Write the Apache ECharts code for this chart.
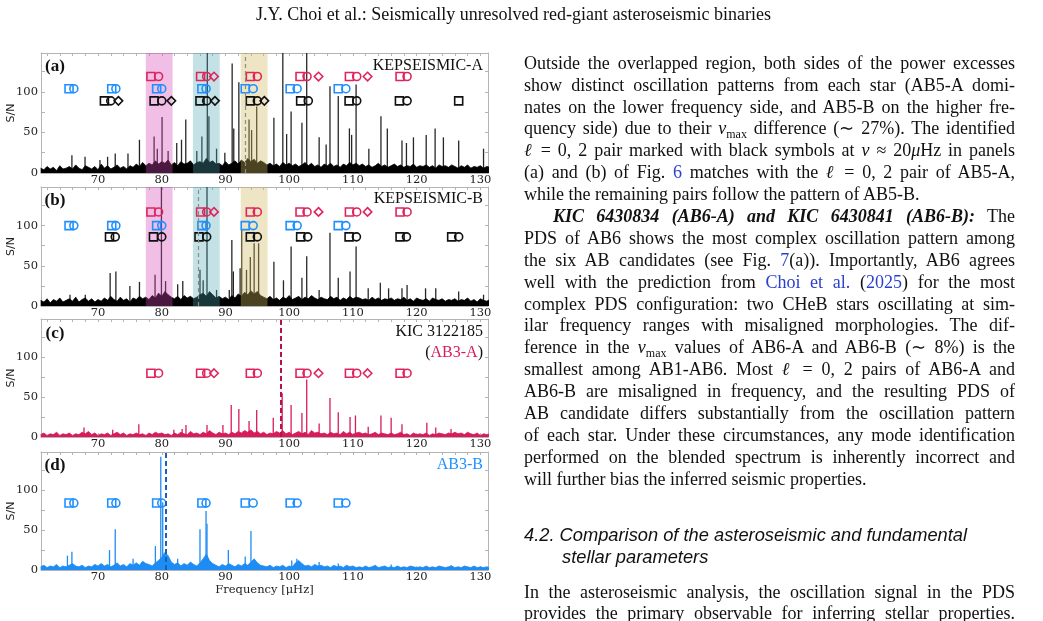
<!DOCTYPE html>
<html>
<head>
<meta charset="utf-8">
<title>Seismically unresolved red-giant asteroseismic binaries</title>
<script src="https://cdn.jsdelivr.net/npm/echarts@6.0.0/dist/echarts.min.js"></script>
<style>
  html, body { margin: 0; padding: 0; background: #fff; }
  #page { position: relative; width: 1043px; height: 621px; overflow: hidden; }
  #chart { position: absolute; left: 0; top: 0; width: 1043px; height: 621px; }
  .txt { position: absolute; font-family: 'Liberation Serif', 'Times New Roman', serif; color: #111; white-space: nowrap; }
  .ln { left: 524px; width: 491px; font-size: 18px; line-height: 22px; text-align: justify; text-align-last: justify; }
  .ln.last { text-align-last: left; }
  .ln.indent { left: 553px; width: 462px; }
  .hd { left: 524px; font-family: 'Liberation Sans', Arial, sans-serif; font-style: italic; font-size: 18.3px; line-height: 22px; }
  .lk { color: #2a3fd0; }
  sub { font-size: 12px; line-height: 0; vertical-align: -4px; }
</style>
</head>
<body>
<div id="page">
  <div id="chart"></div>
</div>
<script>
// ---- data ----
const X_MIN = 61.05, X_MAX = 131.2, Y_MAX = 148;
const freqLabels = [70, 80, 90, 100, 110, 120, 130];
const snLabels = [0, 50, 100];

// noise floor, one value every 0.5 uHz from 61 uHz
const NOISE_START = 61, NOISE_STEP = 0.5;
const noiseA = [
  6,4,8,5,7,3,9,5,6,8, 5,10,6,4,9,7,5,8,4,11, 6,9,5,7,10,6,8,5,9,7,
  11,8,13,9,12,10,15,11,14,12, 16,10,13,9,14,11,12,15,10,13, 14,12,18,13,15,11,12,9,14,10,
  12,15,11,16,13,18,14,17,12,15, 13,10,12,9,11,8,13,10,12,9, 11,8,10,13,9,12,8,10,7,11,
  9,12,8,10,7,11,9,13,10,12, 9,11,8,10,7,9,12,8,10,7, 9,11,8,10,7,9,8,11,7,9,
  8,10,7,9,6,10,8,9,7,10, 8,6,9,7,10,6,8,7,9,6, 8,7
];
const noiseB = [
  7,5,9,4,8,6,10,5,7,9, 6,11,5,8,10,6,9,5,8,6, 10,7,12,8,6,11,7,9,5,10,
  8,12,9,11,8,13,10,16,12,18, 14,11,9,12,8,13,10,12,9,11, 14,16,12,18,14,10,12,9,11,8,
  13,10,15,12,17,14,19,15,18,13, 11,9,12,8,10,7,11,9,13,8, 10,12,8,11,9,13,10,8,11,9,
  8,12,9,11,7,10,8,12,9,11, 10,8,9,7,11,8,10,7,9,8, 10,7,9,8,11,7,9,6,10,8,
  7,9,6,10,8,7,9,6,8,7, 9,6,8,7,10,6,8,5,9,7, 6,8
];
const noiseAB3A = [
  3,5,2,4,3,6,2,4,3,5, 2,4,3,6,4,7,3,5,2,4, 3,5,2,4,6,3,5,2,4,3,
  5,3,4,2,5,3,6,4,5,3, 4,2,5,3,6,4,3,7,4,5, 3,6,4,8,5,3,6,4,5,3,
  6,4,7,5,8,6,9,5,7,4, 6,3,5,4,7,5,8,4,6,3, 5,7,4,6,3,8,5,6,4,5,
  3,6,4,5,3,7,4,6,3,5, 6,4,5,3,4,6,3,5,4,3, 5,3,4,6,3,4,2,5,3,4,
  3,5,2,4,3,5,4,3,5,4, 6,4,5,3,6,4,3,5,2,4, 3,4
];
const noiseAB3B = [
  4,6,3,5,4,7,3,5,4,6, 8,5,4,6,3,5,4,7,5,8, 5,7,4,6,9,5,7,4,8,6,
  9,6,11,8,7,5,9,12,16,22, 18,10,7,9,5,8,6,10,7,5, 9,14,20,12,8,6,4,7,5,8,
  6,4,7,5,8,6,10,14,9,6, 5,4,6,3,5,4,6,3,5,4, 9,12,8,5,6,4,7,5,6,4,
  5,3,6,4,5,3,6,4,5,3, 4,3,5,3,4,6,3,4,5,3, 4,3,5,3,4,3,5,4,3,4,
  3,5,3,4,3,5,4,3,4,5, 3,4,3,5,4,3,5,3,4,3, 4,3
];

// individual peaks [frequency, S/N]
const peaksA = [
  [65.9,22],[67.96,20],[70.3,16],[71.5,20],[72.7,24],[74.7,24],[76.5,41],[78.8,45],[79.3,30],
  [80.05,69],[81.0,27],[82.35,37],[83.1,41],[83.77,66],[85.5,27],[86.3,45],[87.15,200],[87.4,70],
  [88.6,30],[89.9,25],[91.05,135],[91.3,55],[92.1,112],[93.7,66],[94.1,53],[94.9,82],[97.6,68],
  [99.0,200],[99.6,48],[100.3,76],[102.0,62],[102.75,200],[104.7,44],[105.8,35],[106.4,107],
  [107.7,95],[109.45,55],[109.8,47],[110.5,109],[112.5,30],[114.4,70],[115.4,55],[117.7,40],
  [118.4,37],[119.5,44],[121.5,47],[122.9,55],[124.2,44],[126.6,40],[130.5,30]
];
const peaksB = [
  [65.6,14],[68.0,14],[71.9,41],[72.8,43],[75.0,25],[76.5,30],[78.95,39],[79.95,200],[80.6,31],
  [82.5,27],[83.3,31],[86.0,45],[86.5,32],[87.1,200],[88.6,20],[90.6,20],[91.0,82],[91.24,43],
  [92.3,47],[92.55,95],[93.3,45],[93.9,61],[94.5,78],[95.2,78],[97.6,55],[99.1,32],[100.3,74],
  [102.0,35],[102.75,62],[104.7,20],[106.4,91],[107.7,35],[109.55,43],[110.5,74],[112.4,22],
  [114.3,29],[115.6,22],[117.7,22],[118.5,26],[121.4,22],[123.0,22],[126.6,18],[130.5,14]
];
const peaksAB3A = [
  [67.8,12],[72.3,9],[76.4,16],[81.9,9],[83.2,10],[83.8,15],[87.1,15],[89.6,15],[90.9,40],
  [92.1,35],[93.7,20],[94.9,34],[97.5,24],[98.9,55],[100.3,40],[102.0,30],[102.75,72],[104.7,17],
  [106.4,49],[107.7,31],[109.55,25],[110.4,27],[112.4,13],[114.4,27],[116.0,24],[117.7,16],
  [121.6,18],[123.0,12],[125.4,10]
];
const peaksAB3B = [
  [65.2,18],[65.9,23],[71.8,25],[72.7,51],[75.5,14],[79.0,30],[79.85,142],[80.15,85],[82.5,14],
  [86.0,51],[86.95,74],[87.1,58],[90.45,25],[93.1,17],[94.0,49],[100.4,12],[101.2,14],
  [104.7,10],[107.7,8],[116.0,7],[125.4,6]
];

// overlap regions and nu_max
const bandsAB = [[77.5, 81.7], [84.9, 89.1], [92.4, 96.6]];
const numaxA = 93.1, numaxB = 85.65, numaxAB3A = 98.7, numaxAB3B = 80.6;

// mode identifications (frequency of each symbol)
const redSquares = [78.3, 86.1, 93.9, 101.7, 109.45, 117.4];
const redCircles = [79.5, 87.05, 95.0, 102.8, 110.6, 118.5];
const redDiamonds = [88.2, 104.6, 112.3];
const blueSquares = [65.45, 72.15, 79.2, 86.3, 93.1, 100.15, 107.7];
const blueCircles = [66.2, 72.8, 80.0, 86.95, 94.35, 101.25, 108.9];
const blackSquaresA = [71.0, 78.8, 86.0, 93.9, 101.8, 109.4, 117.3, 126.6];
const blackCirclesA = [72.0, 80.0, 87.05, 95.0, 103.0, 110.6, 118.5];
const blackDiamondsA = [73.2, 81.5, 88.35, 96.1];
const blackSquaresB = [71.8, 78.7, 85.85, 93.9, 101.8, 109.4, 117.4, 125.5];
const blackCirclesB = [72.7, 80.0, 87.05, 95.0, 102.9, 110.55, 118.4, 126.6];
// S/N level of each symbol row
const rowsA = { red: 119, blue: 104, black: 89 };
const rowsB = { red: 117, blue: 100, black: 86 };
const rowAB3A = 80, rowAB3B = 84;

// ---- styling ----
const RED = '#e0245e', BLUE = '#1e90ff', BLACK = '#111';
const FRAME = '#b4b4b4';
const TICK_FONT = 'DejaVu Serif';
const bandColors = ['rgba(214,69,183,0.35)', 'rgba(76,167,176,0.33)', 'rgba(205,183,89,0.36)'];

function row(xs, y, shape, color) {
  return { xs: xs, y: y, shape: shape, color: color };
}

const panels = [
  { top: 53, height: 120, color: '#000', peakColor: 'rgba(0,0,0,0.85)', noise: noiseA, peaks: peaksA, bands: bandsAB,
    numax: numaxA, numaxLine: { color: '#8c8c8c', width: 1.2, type: [4, 3] },
    marks: [
      row(redSquares, rowsA.red, 'rect', RED), row(redCircles, rowsA.red, 'circle', RED), row(redDiamonds, rowsA.red, 'diamond', RED),
      row(blueSquares, rowsA.blue, 'rect', BLUE), row(blueCircles, rowsA.blue, 'circle', BLUE),
      row(blackSquaresA, rowsA.black, 'rect', BLACK), row(blackCirclesA, rowsA.black, 'circle', BLACK), row(blackDiamondsA, rowsA.black, 'diamond', BLACK)
    ] },
  { top: 187, height: 119, color: '#000', peakColor: 'rgba(0,0,0,0.85)', noise: noiseB, peaks: peaksB, bands: bandsAB,
    numax: numaxB, numaxLine: { color: '#8c8c8c', width: 1.2, type: [4, 3] },
    marks: [
      row(redSquares, rowsB.red, 'rect', RED), row(redCircles, rowsB.red, 'circle', RED), row(redDiamonds, rowsB.red, 'diamond', RED),
      row(blueSquares, rowsB.blue, 'rect', BLUE), row(blueCircles, rowsB.blue, 'circle', BLUE),
      row(blackSquaresB, rowsB.black, 'rect', BLACK), row(blackCirclesB, rowsB.black, 'circle', BLACK)
    ] },
  { top: 319, height: 118, color: '#d81b5a', peakColor: '#d81b5a', noise: noiseAB3A, peaks: peaksAB3A, bands: null,
    numax: numaxAB3A, numaxLine: { color: '#b8124c', width: 2, type: [5, 3] },
    marks: [
      row(redSquares, rowAB3A, 'rect', RED), row(redCircles, rowAB3A, 'circle', RED), row(redDiamonds, rowAB3A, 'diamond', RED)
    ] },
  { top: 452, height: 118, color: '#1e8cf5', peakColor: '#1e8cf5', noise: noiseAB3B, peaks: peaksAB3B, bands: null,
    numax: numaxAB3B, numaxLine: { color: '#1a5fb4', width: 2, type: [5, 3] },
    marks: [
      row(blueSquares, rowAB3B, 'rect', BLUE), row(blueCircles, rowAB3B, 'circle', BLUE)
    ] }
];

const minorFreqTicks = [];
for (let f = 62; f <= 130; f += 2) minorFreqTicks.push(f);

const frameLine = { show: true, onZero: false, lineStyle: { color: FRAME, width: 1 } };

function bottomX(gi, withName) {
  return {
    type: 'value', gridIndex: gi, position: 'bottom', min: X_MIN, max: X_MAX,
    axisLine: frameLine, splitLine: { show: false },
    axisTick: { show: true, inside: true, length: 4, customValues: freqLabels, lineStyle: { color: FRAME } },
    axisLabel: { customValues: freqLabels, margin: 1, fontFamily: TICK_FONT, fontSize: 11.5, color: '#222' },
    name: withName ? 'Frequency [μHz]' : '', nameLocation: 'middle', nameGap: 14, nameMoveOverlap: false,
    nameTextStyle: { fontFamily: TICK_FONT, fontSize: 11.5, color: '#222' }
  };
}
function topX(gi) {
  return {
    type: 'value', gridIndex: gi, position: 'top', min: X_MIN, max: X_MAX,
    axisLine: frameLine, splitLine: { show: false },
    axisTick: { show: true, inside: true, length: 3, customValues: minorFreqTicks, lineStyle: { color: FRAME } },
    axisLabel: { show: false }
  };
}
function leftY(gi) {
  return {
    type: 'value', gridIndex: gi, position: 'left', min: 0, max: Y_MAX, interval: 25,
    axisLine: frameLine, splitLine: { show: false },
    axisTick: { show: true, inside: true, length: 4, lineStyle: { color: FRAME } },
    axisLabel: { customValues: snLabels, margin: 3, fontFamily: TICK_FONT, fontSize: 11.5, color: '#222' },
    name: 'S/N', nameLocation: 'middle', nameGap: 24, nameMoveOverlap: false,
    nameTextStyle: { fontFamily: 'DejaVu Sans', fontSize: 11, color: '#222' }
  };
}
function rightY(gi) {
  return {
    type: 'value', gridIndex: gi, position: 'right', min: 0, max: Y_MAX, interval: 25,
    axisLine: frameLine, splitLine: { show: false },
    axisTick: { show: true, inside: true, length: 3, lineStyle: { color: FRAME } },
    axisLabel: { show: false }
  };
}

const grid = [], xAxis = [], yAxis = [], series = [];
panels.forEach(function (p, i) {
  grid.push({ left: 41, width: 447, top: p.top, height: p.height });
  xAxis.push(bottomX(i, i === panels.length - 1), topX(i));
  yAxis.push(leftY(i), rightY(i));
  const ax = { xAxisIndex: 2 * i, yAxisIndex: 2 * i };

  series.push(Object.assign({
    type: 'line', silent: true, symbol: 'none', z: 2,
    data: p.noise.map(function (v, k) { return [NOISE_START + k * NOISE_STEP, v]; }),
    lineStyle: { color: p.color, width: 0.8 },
    areaStyle: { color: p.color, opacity: 1 }
  }, ax));
  series.push(Object.assign({
    type: 'bar', silent: true, z: 2, barWidth: 1.3, data: p.peaks,
    itemStyle: { color: p.peakColor }
  }, ax));

  if (p.bands) {
    series.push(Object.assign({
      type: 'custom', silent: true, z: 3, data: p.bands, encode: { x: [0, 1] },
      renderItem: function (params, api) {
        const a = api.coord([api.value(0), Y_MAX]);
        const b = api.coord([api.value(1), 0]);
        return { type: 'rect', shape: { x: a[0], y: a[1], width: b[0] - a[0], height: b[1] - a[1] },
                 style: { fill: bandColors[params.dataIndex] } };
      }
    }, ax));
  }

  p.marks.forEach(function (m, j) {
    const s = Object.assign({
      type: 'scatter', silent: true, z: 4, symbol: m.shape,
      symbolSize: m.shape === 'diamond' ? 8.5 : 8,
      data: m.xs.map(function (f) { return [f, m.y]; }),
      itemStyle: { color: 'rgba(0,0,0,0)', borderColor: m.color, borderWidth: 1.6, opacity: 1 }
    }, ax);
    if (j === 0) {
      s.markLine = { silent: true, symbol: ['none', 'none'], label: { show: false },
                     lineStyle: p.numaxLine, data: [{ xAxis: p.numax }] };
    }
    series.push(s);
  });
});

function label(x, y, text, font, color, align) {
  return { type: 'text', x: x, y: y, silent: true, z: 10,
           style: { text: text, font: font, fill: color, textAlign: align, textVerticalAlign: 'middle',
                    align: align, verticalAlign: 'middle' } };
}
const TAG_FONT = 'bold 17px "Liberation Serif"';
const NAME_FONT = '16px "Liberation Serif"';
const graphic = [
  label(55, 67, '(a)', TAG_FONT, '#111', 'center'),
  label(483, 66, 'KEPSEISMIC-A', NAME_FONT, '#111', 'right'),
  label(55, 201, '(b)', TAG_FONT, '#111', 'center'),
  label(483, 199, 'KEPSEISMIC-B', NAME_FONT, '#111', 'right'),
  label(55, 334, '(c)', TAG_FONT, '#111', 'center'),
  label(483, 332, 'KIC 3122185', NAME_FONT, '#111', 'right'),
  {
    type: 'text', x: 483, y: 353, silent: true, z: 10,
    style: { text: '{p|(}{r|AB3-A}{p|)}', font: NAME_FONT, textAlign: 'right', textVerticalAlign: 'middle',
             align: 'right', verticalAlign: 'middle',
             rich: { p: { fill: '#111', color: '#111', font: NAME_FONT }, r: { fill: '#d81b5a', color: '#d81b5a', font: NAME_FONT } } }
  },
  label(55, 466, '(d)', TAG_FONT, '#111', 'center'),
  label(483, 465, 'AB3-B', NAME_FONT, BLUE, 'right')
];

const chart = echarts.init(document.getElementById('chart'), null, { renderer: 'canvas' });
chart.setOption({
  animation: false,
  backgroundColor: '#fff',
  grid: grid,
  xAxis: xAxis,
  yAxis: yAxis,
  series: series,
  graphic: graphic
});

// ---- page text around the figure ----
const page = document.getElementById('page');
function addText(cls, top, html, extra) {
  const d = document.createElement('div');
  d.className = 'txt ' + cls;
  d.style.top = top + 'px';
  if (extra) Object.assign(d.style, extra);
  d.innerHTML = html;
  page.appendChild(d);
}
addText('', 3, 'J.Y. Choi et al.: Seismically unresolved red-giant asteroseismic binaries',
        { left: '0px', width: '1027px', textAlign: 'center', fontSize: '18px', lineHeight: '22px' });

const nuMax = '<i>ν</i><sub>max</sub>';
const ell = '<i>ℓ</i>';
const bodyLines = [
  ['', 'Outside the overlapped region, both sides of the power excesses'],
  ['', 'show distinct oscillation patterns from each star (AB5-A domi-'],
  ['', 'nates on the lower frequency side, and AB5-B on the higher fre-'],
  ['', 'quency side) due to their ' + nuMax + ' difference (∼ 27%). The identified'],
  ['', ell + ' = 0, 2 pair marked with black symbols at <i>ν</i> ≈ 20<i>μ</i>Hz in panels'],
  ['', '(a) and (b) of Fig. <span class="lk">6</span> matches with the ' + ell + ' = 0, 2 pair of AB5-A,'],
  ['last', 'while the remaining pairs follow the pattern of AB5-B.'],
  ['indent', '<b><i>KIC 6430834 (AB6-A) and KIC 6430841 (AB6-B):</i></b> The'],
  ['', 'PDS of AB6 shows the most complex oscillation pattern among'],
  ['', 'the six AB candidates (see Fig. <span class="lk">7</span>(a)). Importantly, AB6 agrees'],
  ['', 'well with the prediction from <span class="lk">Choi et al.</span> (<span class="lk">2025</span>) for the most'],
  ['', 'complex PDS configuration: two CHeB stars oscillating at sim-'],
  ['', 'ilar frequency ranges with misaligned morphologies. The dif-'],
  ['', 'ference in the ' + nuMax + ' values of AB6-A and AB6-B (∼ 8%) is the'],
  ['', 'smallest among AB1-AB6. Most ' + ell + ' = 0, 2 pairs of AB6-A and'],
  ['', 'AB6-B are misaligned in frequency, and the resulting PDS of'],
  ['', 'AB candidate differs substantially from the oscillation pattern'],
  ['', 'of each star. Under these circumstances, any mode identification'],
  ['', 'performed on the blended spectrum is inherently incorrect and'],
  ['last', 'will further bias the inferred seismic properties.']
];
bodyLines.forEach(function (l, i) {
  addText('ln ' + l[0], Math.round(62.7 + i * 21.9 - 11), l[1]);
});
addText('hd', 524, '4.2. Comparison of the asteroseismic and fundamental');
addText('hd', 546, 'stellar parameters', { left: '562px' });
addText('ln', 581, 'In the asteroseismic analysis, the oscillation signal in the PDS');
addText('ln', 602, 'provides the primary observable for inferring stellar properties.');
</script>
</body>
</html>
